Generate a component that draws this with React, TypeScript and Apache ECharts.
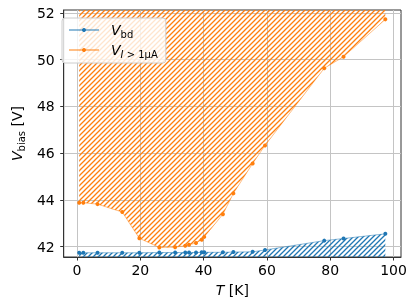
import React, { useEffect, useRef } from 'react';
import * as echarts from 'echarts';

const temperatures = [0.7, 2.0, 6.5, 14.3, 19.7, 26.0, 31.0, 34.2, 35.4, 37.6, 39.4, 40.2, 46.1, 49.4, 55.5, 59.4, 78.1, 84.2, 97.4];
const vBreakdown = [41.74, 41.74, 41.74, 41.74, 41.74, 41.75, 41.75, 41.75, 41.75, 41.75, 41.76, 41.76, 41.76, 41.77, 41.78, 41.86, 42.26, 42.35, 42.55];
const vCurrent = [43.88, 43.88, 43.82, 43.48, 42.36, 41.97, 41.98, 42.04, 42.08, 42.16, 42.3, 42.42, 43.39, 44.28, 45.56, 46.33, 49.63, 50.12, 51.72];
const xTicks = [0, 20, 40, 60, 80, 100];
const yTicks = [42, 44, 46, 48, 50, 52];

const BLUE = '#1f77b4';
const ORANGE = '#ff7f0e';
const FONT = 'DejaVu Sans';

// "/" hatch: lines from bottom-left to top-right of each tile
function hatch(color: string, size = 5) {
  const c = document.createElement('canvas');
  c.width = size;
  c.height = size;
  const ctx = c.getContext('2d')!;
  ctx.strokeStyle = color;
  ctx.lineWidth = 1.3;
  ctx.beginPath();
  ctx.moveTo(0, size);
  ctx.lineTo(size, 0);
  ctx.moveTo(-1, 1);
  ctx.lineTo(1, -1);
  ctx.moveTo(size - 1, size + 1);
  ctx.lineTo(size + 1, size - 1);
  ctx.stroke();
  return { image: c, repeat: 'repeat' };
}

const baseRich = (extraLeft = 0) => ({
  i: { fontFamily: FONT, fontStyle: 'italic', fontSize: 14, lineHeight: 20, color: '#000', padding: [0, 0, 0, extraLeft] },
  n: { fontFamily: FONT, fontSize: 14, lineHeight: 20, color: '#000' },
  sub: { fontFamily: FONT, fontSize: 10, lineHeight: 20, color: '#000', padding: [8, 0, 0, 0] },
  subi: { fontFamily: FONT, fontStyle: 'italic', fontSize: 10, lineHeight: 20, color: '#000', padding: [8, 0, 0, 0] },
});

export default function App() {
  const ref = useRef<HTMLDivElement>(null);
  useEffect(() => {
    if (!ref.current) return;
    const chart = echarts.init(ref.current, undefined, { renderer: 'svg' });
    const axisColor = '#333';
    const gridColor = '#c4c4c4';
    chart.setOption({
      animation: false,
      grid: { left: 53, right: 14, top: 10, bottom: 50, show: true, borderColor: axisColor, borderWidth: 1 },
      xAxis: {
        type: 'value',
        min: -4.19,
        max: 102.35,
        axisLine: { show: true, onZero: false, lineStyle: { color: axisColor } },
        axisTick: { show: true, length: 3.5, customValues: xTicks, lineStyle: { color: axisColor } },
        axisLabel: { customValues: xTicks, fontSize: 14, fontFamily: FONT, color: '#000', margin: 6 },
        splitLine: { show: true, lineStyle: { color: gridColor } },
        name: '{i|T}{n| [K]}',
        nameLocation: 'middle',
        nameGap: 23,
        nameTextStyle: { rich: baseRich() },
      },
      yAxis: {
        type: 'value',
        min: 41.56,
        max: 52.12,
        axisLine: { show: true, onZero: false, lineStyle: { color: axisColor } },
        axisTick: { show: true, length: 3.5, customValues: yTicks, lineStyle: { color: axisColor } },
        axisLabel: { customValues: yTicks, fontSize: 14, fontFamily: FONT, color: '#000', margin: 9 },
        splitLine: { show: true, lineStyle: { color: gridColor } },
        name: '{i|V}{sub|bias}{n| [V]}',
        nameLocation: 'middle',
        nameGap: 33,
        nameRotate: 90,
        nameTextStyle: { rich: baseRich() },
      },
      legend: {
        orient: 'vertical',
        left: 62,
        top: 18,
        padding: [3, 8, 4, 6],
        itemGap: 2,
        itemWidth: 30,
        itemHeight: 5,
        backgroundColor: 'rgba(255,255,255,0.8)',
        borderColor: '#cccccc',
        borderWidth: 1,
        borderRadius: 3,
        data: ['Vbd', 'VI'],
        formatter: (name: string) =>
          name === 'Vbd' ? '{i|V}{sub|bd}' : '{i|V}{subi|I}{sub| > 1μA}',
        textStyle: { rich: baseRich(7) },
      },
      series: [
        {
          type: 'line',
          name: 'Vbd',
          data: temperatures.map((t, i) => [t, vBreakdown[i]]),
          symbol: 'circle',
          symbolSize: 4,
          itemStyle: { color: BLUE },
          lineStyle: { width: 1, color: BLUE, opacity: 0.5 },
          areaStyle: { color: hatch(BLUE), origin: 'start', opacity: 1 },
        },
        {
          type: 'line',
          name: 'VI',
          data: temperatures.map((t, i) => [t, vCurrent[i]]),
          symbol: 'circle',
          symbolSize: 4,
          itemStyle: { color: ORANGE },
          lineStyle: { width: 1, color: ORANGE, opacity: 0.5 },
          areaStyle: { color: hatch(ORANGE), origin: 'end', opacity: 1 },
        },
      ],
    });
    return () => chart.dispose();
  }, []);
  return <div ref={ref} style={{ position: 'fixed', left: 0, top: 0, width: 415, height: 307 }} />;
}
